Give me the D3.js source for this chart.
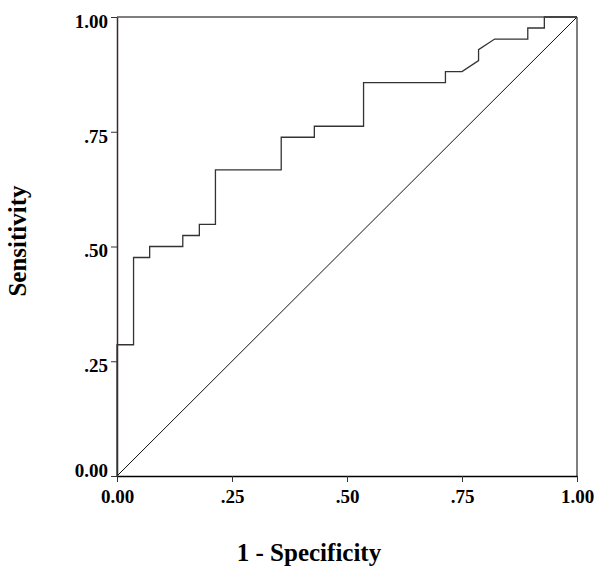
<!DOCTYPE html>
<html lang="en">
<head>
    <title>ROC Curve</title>
    <style>
        body { margin: 0; background: #fff; }
        .axis text {
            font-family: "Liberation Serif", "Times New Roman", serif;
            font-weight: bold;
            font-size: 19px;
            fill: #000;
        }
        .title {
            font-family: "Liberation Serif", "Times New Roman", serif;
            font-weight: bold;
            font-size: 25px;
            fill: #000;
        }
    </style>
    <script src="https://d3js.org/d3.v7.min.js"></script>
</head>
<body>
<svg></svg>
<script>
    const width = 600;
    const height = 573;

    // ROC vertices (1 - specificity, sensitivity)
    const fpr = [0, 0, 0.036, 0.036, 0.071, 0.071, 0.143, 0.143, 0.179, 0.179, 0.214, 0.214,
        0.357, 0.357, 0.429, 0.429, 0.536, 0.536, 0.714, 0.714, 0.75, 0.786, 0.786, 0.821,
        0.893, 0.893, 0.929, 0.929, 1];
    const tpr = [0, 0.286, 0.286, 0.476, 0.476, 0.5, 0.5, 0.524, 0.524, 0.548, 0.548, 0.667,
        0.667, 0.738, 0.738, 0.762, 0.762, 0.857, 0.857, 0.881, 0.881, 0.905, 0.929, 0.952,
        0.952, 0.976, 0.976, 1, 1];

    const tickValues = [0, 0.25, 0.5, 0.75, 1];
    const tickLabels = ['0.00', '.25', '.50', '.75', '1.00'];

    const plotLeft = 117, plotRight = 577, plotTop = 17, plotBottom = 476;

    const svg = d3.select('svg').attr('width', width).attr('height', height);

    const x = d3.scaleLinear().domain([0, 1]).range([plotLeft, plotRight]);
    const y = d3.scaleLinear().domain([0, 1]).range([plotBottom, plotTop]);

    // frame top / right
    svg.append('line')
        .attr('x1', x(0)).attr('x2', x(1)).attr('y1', y(1)).attr('y2', y(1))
        .attr('stroke', '#555').attr('stroke-width', 1.5);
    svg.append('line')
        .attr('x1', x(1)).attr('x2', x(1)).attr('y1', y(1)).attr('y2', y(0))
        .attr('stroke', '#555').attr('stroke-width', 1.5);

    const xAxis = svg.append('g')
        .attr('class', 'axis')
        .attr('transform', `translate(0,${plotBottom})`)
        .call(d3.axisBottom(x).tickValues(tickValues)
            .tickFormat((d, i) => tickLabels[i]).tickSize(6).tickSizeOuter(0));
    xAxis.select('.domain').attr('stroke', '#000').attr('stroke-width', 1.5);
    xAxis.selectAll('.tick line').attr('stroke', '#333');
    xAxis.selectAll('.tick text').attr('y', 14).attr('dy', '0.71em');

    const yAxis = svg.append('g')
        .attr('class', 'axis')
        .attr('transform', `translate(${plotLeft},0)`)
        .call(d3.axisLeft(y).tickValues(tickValues)
            .tickFormat((d, i) => tickLabels[i]).tickSize(6).tickSizeOuter(0));
    yAxis.select('.domain').attr('stroke', '#3a2a2a').attr('stroke-width', 1.5);
    yAxis.selectAll('.tick line').attr('stroke', '#333');
    yAxis.selectAll('.tick text')
        .attr('x', -9)
        .attr('dy', d => d === 0 ? '0.05em' : '0.55em');

    // reference diagonal
    svg.append('line')
        .attr('x1', x(0)).attr('y1', y(0)).attr('x2', x(1)).attr('y2', y(1))
        .attr('stroke', '#111').attr('stroke-width', 1);

    const line = d3.line()
        .x(i => x(fpr[i]))
        .y(i => y(tpr[i]));

    svg.append('path')
        .datum(d3.range(fpr.length))
        .attr('fill', 'none')
        .attr('stroke', '#333')
        .attr('stroke-width', 1.3)
        .attr('d', line);

    svg.append('text')
        .attr('class', 'title')
        .attr('text-anchor', 'middle')
        .attr('x', 309)
        .attr('y', 561)
        .text('1 - Specificity');

    svg.append('text')
        .attr('class', 'title')
        .attr('text-anchor', 'middle')
        .attr('transform', 'translate(26,241) rotate(-90)')
        .text('Sensitivity');
</script>
</body>
</html>
